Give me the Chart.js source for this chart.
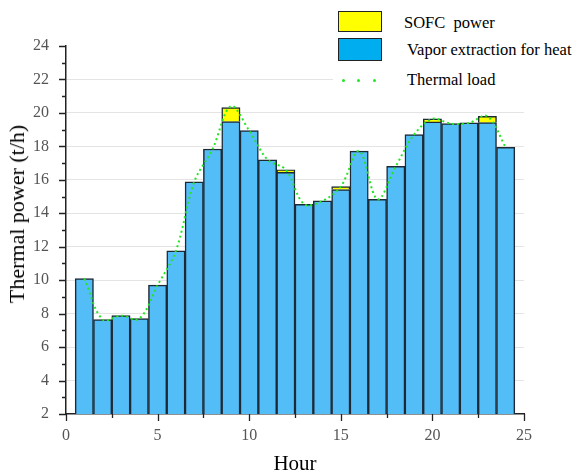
<!DOCTYPE html>
<html>
<head>
<meta charset="utf-8">
<script src="https://cdn.jsdelivr.net/npm/chart.js"></script>
<style>
  body { margin: 0; background: #fff; }
  #wrap { position: relative; width: 577px; height: 475px; }
  #ytitle {
    position: absolute; left: 17px; top: 214px;
    transform: translate(-50%, -50%) rotate(-90deg);
    font: 22px "Liberation Serif", serif; color: #000; white-space: nowrap;
  }
  #legend {
    position: absolute; left: 333px; top: 0; width: 244px; height: 95px;
    background: #fff; font: 16.5px "Liberation Serif", serif; color: #000;
  }
  .item { position: absolute; white-space: pre; line-height: 1; }
  .swatch { position: absolute; box-sizing: border-box; border: 1px solid #222; }
  .dot { position: absolute; width: 3px; height: 3px; border-radius: 50%; }
</style>
</head>
<body>
<div id="wrap">
  <canvas id="chart" width="577" height="475"></canvas>
  <div id="ytitle">Thermal power (t/h)</div>
  <div id="legend"></div>
</div>
<script>
/* DATA */
const hours = [1, 2, 3, 4, 5, 6, 7, 8, 9, 10, 11, 12, 13, 14, 15, 16, 17, 18, 19, 20, 21, 22, 23, 24];
const vaporHeat = [10.1, 7.64, 7.88, 7.7, 9.7, 11.76, 15.88, 17.84, 19.48, 18.94, 17.2, 16.45,
                   14.54, 14.74, 15.42, 17.72, 14.84, 16.8, 18.7, 19.46, 19.36, 19.4, 19.42, 17.94];
const sofcPower = [0, 0, 0, 0, 0, 0, 0, 0, 0.84, 0, 0, 0.15,
                   0, 0, 0.18, 0, 0, 0, 0, 0.18, 0, 0, 0.38, 0];
const thermalLoad = [10.1, 7.64, 7.88, 7.7, 9.7, 11.76, 15.88, 17.84, 20.4, 18.94, 17.2, 16.6,
                     14.54, 14.74, 15.6, 17.72, 14.84, 16.8, 18.7, 19.64, 19.36, 19.4, 19.8, 17.94];
const seriesNames = ["SOFC  power", "Vapor extraction for heat", "Thermal load"];
const X_MIN = 0, X_MAX = 25, Y_MIN = 2, Y_MAX = 24;

const BLUE = "#53bdf8";
const YELLOW = "#ffff00";
const GREEN = "#22e622";

/* minor + major tick marks on the axes */
const axisTicks = {
  id: "axisTicks",
  afterDraw(chart) {
    const { ctx, chartArea: a, scales: { x, y } } = chart;
    ctx.save();
    ctx.strokeStyle = "#222";
    ctx.lineWidth = 1.3;
    ctx.beginPath();
    for (let v = Y_MIN; v <= Y_MAX; v += 1) {
      const py = Math.round(y.getPixelForValue(v)) + 0.5;
      const len = v % 2 === 0 ? 7 : 4;
      ctx.moveTo(a.left, py);
      ctx.lineTo(a.left - len, py);
    }
    for (let v = X_MIN; v <= X_MAX; v += 2.5) {
      const px = Math.round(x.getPixelForValue(v)) + 0.5;
      const len = v % 5 === 0 ? 7 : 4;
      ctx.moveTo(px, a.bottom);
      ctx.lineTo(px, a.bottom + len);
    }
    ctx.stroke();
    ctx.restore();
  }
};

const pts = arr => hours.map((h, i) => ({ x: h, y: arr[i] || null }));

new Chart(document.getElementById("chart").getContext("2d"), {
  type: "bar",
  data: {
    datasets: [
      {
        type: "line", label: seriesNames[2], data: pts(thermalLoad),
        borderColor: GREEN, borderWidth: 2, borderDash: [2, 3],
        pointRadius: 0, tension: 0.35, fill: false, stack: "load", order: 0
      },
      {
        label: seriesNames[1], data: pts(vaporHeat), backgroundColor: BLUE,
        borderColor: "#1d2a36", borderWidth: 1.5, stack: "heat", order: 1,
        barPercentage: 1, categoryPercentage: 1
      },
      {
        label: seriesNames[0], data: pts(sofcPower), backgroundColor: YELLOW,
        borderColor: "#1d2a36", borderWidth: 1.5, stack: "heat", order: 2,
        barPercentage: 1, categoryPercentage: 1
      }
    ]
  },
  options: {
    responsive: false,
    animation: false,
    devicePixelRatio: 1,
    layout: { padding: { left: 0, right: 53, top: 46, bottom: 0 } },
    plugins: { legend: { display: false }, tooltip: { enabled: false } },
    scales: {
      x: {
        type: "linear", min: X_MIN, max: X_MAX, stacked: true, offset: false,
        grid: { display: false, offset: false, drawTicks: false },
        border: { display: true, color: "#222", width: 1.5 },
        ticks: {
          stepSize: 5, padding: 12, color: "#555",
          font: { family: "Liberation Serif", size: 16 }
        },
        title: {
          display: true, text: "Hour", color: "#000",
          font: { family: "Liberation Serif", size: 21, lineHeight: 1 },
          padding: { top: 0, bottom: 0 }
        },
        afterFit: s => { s.height = 61; }
      },
      y: {
        min: Y_MIN, max: Y_MAX, stacked: true,
        grid: {
          drawTicks: false,
          color: ctx => (ctx.tick && ctx.tick.value > Y_MIN && ctx.tick.value < Y_MAX) ? "#e4e4e4" : "rgba(0,0,0,0)"
        },
        border: { display: true, color: "#222", width: 1.5 },
        ticks: {
          stepSize: 2, padding: 17, color: "#555",
          font: { family: "Liberation Serif", size: 16 }
        },
        afterFit: s => { s.width = 66; }
      }
    }
  },
  plugins: [axisTicks]
});

/* LEGEND */
const legend = document.getElementById("legend");
legend.innerHTML =
  `<div class="swatch" style="left:5px;top:11px;width:44px;height:21px;background:${YELLOW}"></div>
   <div class="item" style="left:71px;top:15px">${seriesNames[0]}</div>
   <div class="swatch" style="left:5px;top:38px;width:44px;height:23px;background:#00aeef"></div>
   <div class="item" style="left:74px;top:42px">${seriesNames[1]}</div>
   <div class="dot" style="left:9px;top:79px;background:${GREEN}"></div>
   <div class="dot" style="left:24px;top:79px;background:${GREEN}"></div>
   <div class="dot" style="left:40px;top:79px;background:${GREEN}"></div>
   <div class="item" style="left:74px;top:72px">${seriesNames[2]}</div>`;
</script>
</body>
</html>
